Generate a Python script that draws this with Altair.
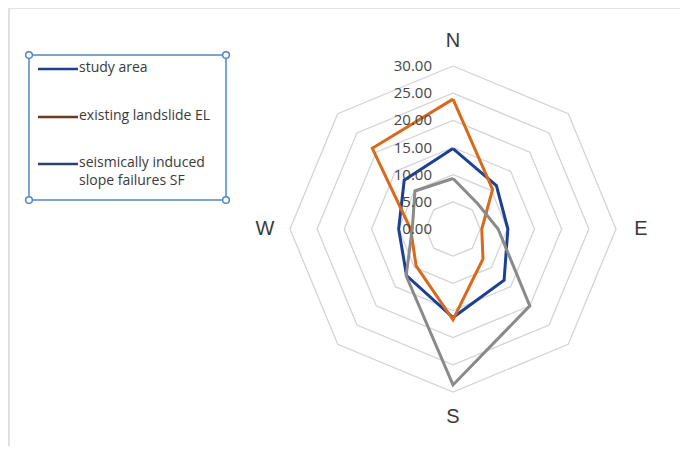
import altair as alt
import pandas as pd
import numpy as np

# ---- data ----
directions = ["N", "NE", "E", "SE", "S", "SW", "W", "NW"]
study_area = [14.8, 11.3, 10.1, 13.3, 16.3, 12.1, 10.0, 12.7]
existing_landslide = [23.9, 10.3, 5.3, 7.8, 16.7, 9.6, 7.8, 21.0]
seismic_sf = [9.3, 6.5, 8.3, 20.0, 28.7, 12.2, 7.5, 9.9]
series_names = ["study area", "existing landslide EL", "seismically induced slope failures SF"]
series_colors = ["#1c4193", "#d9691c", "#8a8a8a"]
legend_colors = ["#1f3f8f", "#6a3a22", "#2a4266"]
ring_values = [5, 10, 15, 20, 25, 30]
tick_values = [0, 5, 10, 15, 20, 25, 30]
tick_labels = ["0.00", "5.00", "10.00", "15.00", "20.00", "25.00", "30.00"]
label_dirs = ["N", "E", "S", "W"]
label_radius = 34.6

W, H = 672, 438
k = 163 / 30.0
cx, cy = 445, 221
xdom = [-cx / k, (W - cx) / k]
ydom = [-(H - cy) / k, cy / k]
xs = alt.Scale(domain=xdom, nice=False, zero=False)
ys = alt.Scale(domain=ydom, nice=False, zero=False)


def polar(r, i):
    a = np.deg2rad(i * 45)
    return r * np.sin(a), r * np.cos(a)


# rings
rows = []
for rv in ring_values:
    for j in range(9):
        x, y = polar(rv, j % 8)
        rows.append({"ring": rv, "o": j, "x": x, "y": y})
rings = pd.DataFrame(rows)

# series
rows = []
for name, vals in zip(series_names, [study_area, existing_landslide, seismic_sf]):
    for j in range(9):
        x, y = polar(vals[j % 8], j % 8)
        rows.append({"series": name, "o": j, "x": x, "y": y})
series = pd.DataFrame(rows)

ticks = pd.DataFrame({"x": [0] * len(tick_values), "y": tick_values, "t": tick_labels})

lab_rows = []
for d in label_dirs:
    x, y = polar(label_radius, directions.index(d))
    lab_rows.append({"d": d, "x": x, "y": y})
labs = pd.DataFrame(lab_rows)

ring_layer = alt.Chart(rings).mark_line(color="#d4d4d4", strokeWidth=1.3).encode(
    x=alt.X("x:Q", scale=xs, axis=None),
    y=alt.Y("y:Q", scale=ys, axis=None),
    detail="ring:N",
    order="o:Q",
)

line_layer = alt.Chart(series).mark_line(strokeWidth=3, strokeJoin="miter").encode(
    x=alt.X("x:Q", scale=xs, axis=None),
    y=alt.Y("y:Q", scale=ys, axis=None),
    color=alt.Color("series:N", scale=alt.Scale(domain=series_names, range=series_colors), legend=None),
    detail="series:N",
    order="o:Q",
)

tick_layer = alt.Chart(ticks).mark_text(
    align="right", baseline="middle", dx=-21, fontSize=15, font="Open Sans", color="#454545"
).encode(
    x=alt.X("x:Q", scale=xs, axis=None),
    y=alt.Y("y:Q", scale=ys, axis=None),
    text="t:N",
)

dir_layer = alt.Chart(labs).mark_text(
    align="center", baseline="middle", fontSize=20, font="Liberation Sans", color="#3a3a3a"
).encode(
    x=alt.X("x:Q", scale=xs, axis=None),
    y=alt.Y("y:Q", scale=ys, axis=None),
    text="d:N",
)

one = pd.DataFrame({"a": [0]})
layers = [ring_layer, line_layer, tick_layer, dir_layer]

# frame
layers.append(alt.Chart(one).mark_rect(fill=None, stroke="#e3e3e3", strokeWidth=1).encode(
    x=alt.value(1.5), x2=alt.value(W + 20), y=alt.value(0.5), y2=alt.value(H + 20)))

# legend box
box = dict(x0=21, x1=218, y0=47, y1=192)
layers.append(alt.Chart(one).mark_rect(fill="white", stroke="#4f86c6", strokeWidth=1.5).encode(
    x=alt.value(box["x0"]), x2=alt.value(box["x1"]), y=alt.value(box["y0"]), y2=alt.value(box["y1"])))
for (px, py) in [(box["x0"], box["y0"]), (box["x1"], box["y0"]), (box["x0"], box["y1"]), (box["x1"], box["y1"])]:
    layers.append(alt.Chart(one).mark_point(shape="circle", size=45, filled=True, fill="white",
                                            stroke="#4f86c6", strokeWidth=1.5, opacity=1).encode(
        x=alt.value(px), y=alt.value(py)))

legend_rows = [61, 109, 156]
legend_text_lines = [["study area"], ["existing landslide EL"], ["seismically induced", "slope failures SF"]]
for ly, col, tl in zip(legend_rows, legend_colors, legend_text_lines):
    layers.append(alt.Chart(one).mark_rule(color=col, strokeWidth=2.5).encode(
        x=alt.value(30), x2=alt.value(70), y=alt.value(ly)))
    for n, t in enumerate(tl):
        layers.append(alt.Chart(one).mark_text(text=t, align="left", baseline="middle", fontSize=14,
                                               font="Open Sans", color="#3a3a3a").encode(
            x=alt.value(71), y=alt.value(ly - 1 + n * 18)))

chart = alt.layer(*layers).properties(
    width=W, height=H, autosize=alt.AutoSizeParams(type="none"), padding=0
).configure_view(stroke=None).configure(background="white")

chart.save("out.html", embed_options={"renderer": "svg", "actions": False})
